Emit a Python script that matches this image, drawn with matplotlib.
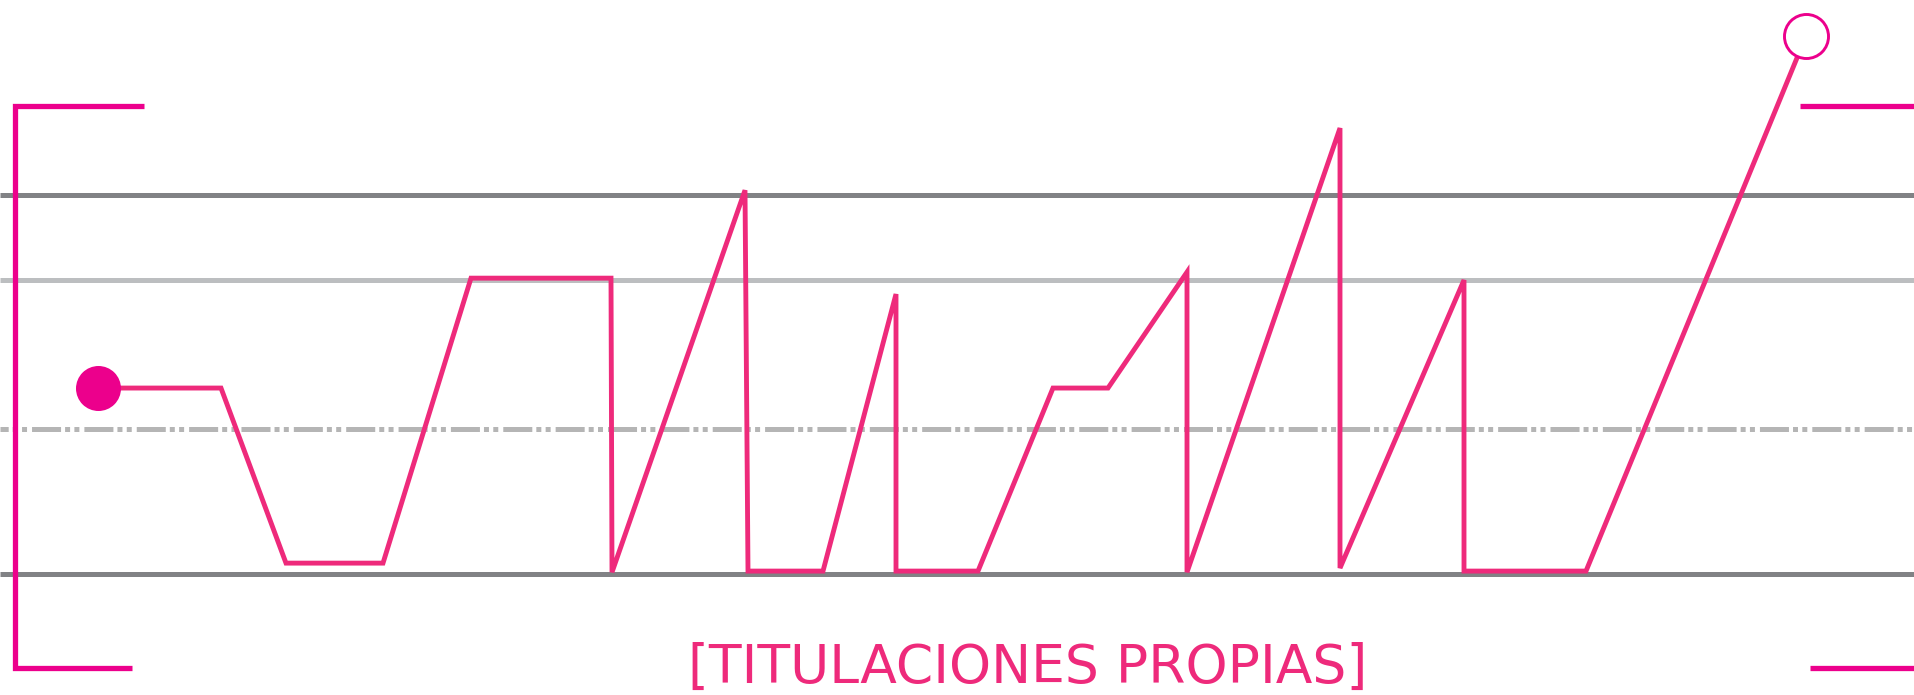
import matplotlib.pyplot as plt
import matplotlib as mpl

mpl.rcParams['lines.scale_dashes'] = False

PINK = '#ec008c'
LINE_PINK = '#ee2a7b'
DARK_GREY = '#818285'
LIGHT_GREY = '#bcbec0'
DASH_GREY = '#b5b5b5'

# series (x in horizontal units, y in value units)
x_vals = [98, 221, 286, 383, 471, 611, 612, 745, 748, 823, 896, 896, 978,
          1053, 1108, 1187, 1187, 1340, 1340, 1464, 1464, 1586, 1806]
y_vals = [49.1, 49.1, 2.9, 2.9, 78.1, 78.1, 0.5, 101.3, 0.8, 0.8, 73.9, 0.8, 0.8,
          49.1, 49.1, 79.7, 0.5, 117.7, 1.6, 77.6, 0.8, 0.8, 142.0]

# reference lines
dark_lines = [0, 100]
light_lines = [77.6]
dashdot_lines = [38.3]

title = '[TITULACIONES PROPIAS]'


def main():
    fig = plt.figure(figsize=(19.15, 6.95), dpi=100)
    ax = fig.add_axes([0, 0, 1, 1])
    ax.set_xlim(0, 1915)
    ax.set_ylim(-31.9, 151.5)
    ax.axis('off')

    for y in dark_lines:
        ax.axhline(y, color=DARK_GREY, lw=3.6, solid_capstyle='butt', zorder=1)
    for y in light_lines:
        ax.axhline(y, color=LIGHT_GREY, lw=3.6, solid_capstyle='butt', zorder=1)
    for y in dashdot_lines:
        ax.axhline(y, color=DASH_GREY, lw=3.6, dash_capstyle='butt', zorder=1,
                   linestyle=(15, (20.9, 2.9, 3.6, 3.1, 3.6, 3.6)))

    # brackets
    ax.plot([144, 15, 15, 132], [123.5, 123.5, -24.8, -24.8], color=PINK,
            lw=3.8, solid_joinstyle='miter', solid_capstyle='butt', zorder=2)
    ax.plot([1800, 1915], [123.5, 123.5], color=PINK, lw=3.8,
            solid_capstyle='butt', zorder=2)
    ax.plot([1810, 1915], [-24.8, -24.8], color=PINK, lw=3.8,
            solid_capstyle='butt', zorder=2)

    ax.plot(x_vals, y_vals, color=LINE_PINK, lw=3.5, solid_joinstyle='miter',
            solid_capstyle='butt', zorder=3)
    ax.plot(x_vals[0], y_vals[0], 'o', color=PINK, ms=32.4, mew=0, zorder=4)
    ax.plot(x_vals[-1], y_vals[-1], 'o', mfc='white', mec=PINK, ms=31.7, mew=2.1,
            zorder=4)

    ax.text(1028, -28.8, title, color=LINE_PINK, ha='center', va='baseline',
            fontsize=38.5, family='DejaVu Sans')

    fig.savefig('out.png', dpi=100)


if __name__ == "__main__":
    main()
